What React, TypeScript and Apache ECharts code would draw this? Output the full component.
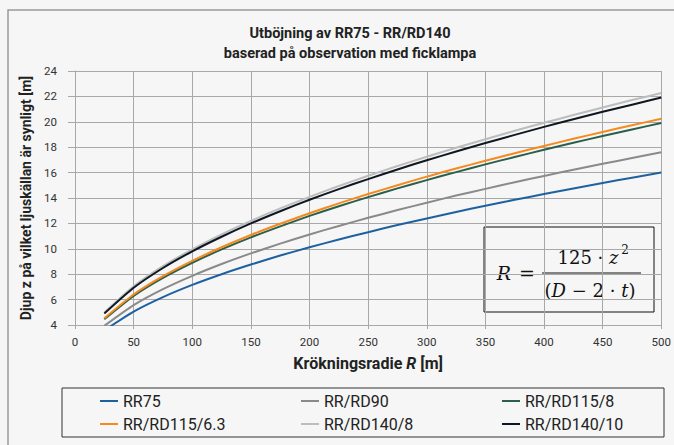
import React, { useEffect, useRef } from "react";
import * as echarts from "echarts";

const radii = [25, 50, 75, 100, 125, 150, 175, 200, 225, 250, 275, 300, 325, 350, 375, 400, 425, 450, 475, 500];

const rr75 = [3.58, 5.06, 6.2, 7.16, 8.0, 8.76, 9.47, 10.12, 10.73, 11.31, 11.87, 12.39, 12.9, 13.39, 13.86, 14.31, 14.75, 15.18, 15.6, 16.0];
const rrd90 = [3.93, 5.56, 6.82, 7.87, 8.8, 9.64, 10.41, 11.13, 11.8, 12.44, 13.05, 13.63, 14.19, 14.72, 15.24, 15.74, 16.22, 16.69, 17.15, 17.6];
const rrd115_8 = [4.45, 6.29, 7.71, 8.9, 9.95, 10.9, 11.77, 12.59, 13.35, 14.07, 14.76, 15.41, 16.04, 16.65, 17.23, 17.8, 18.35, 18.88, 19.4, 19.9];
const rrd115_63 = [4.53, 6.4, 7.84, 9.05, 10.12, 11.09, 11.97, 12.8, 13.58, 14.31, 15.01, 15.68, 16.32, 16.93, 17.53, 18.1, 18.66, 19.2, 19.73, 20.24];
const rrd140_8 = [4.98, 7.04, 8.63, 9.96, 11.14, 12.2, 13.18, 14.09, 14.94, 15.75, 16.52, 17.25, 17.96, 18.63, 19.29, 19.92, 20.53, 21.13, 21.71, 22.27];
const rrd140_10 = [4.9, 6.93, 8.49, 9.8, 10.95, 12.0, 12.96, 13.86, 14.7, 15.49, 16.25, 16.97, 17.66, 18.33, 18.97, 19.6, 20.2, 20.79, 21.35, 21.91];

const seriesNames = ["RR75", "RR/RD90", "RR/RD115/8", "RR/RD115/6.3", "RR/RD140/8", "RR/RD140/10"];
const seriesValues = [rr75, rrd90, rrd115_8, rrd115_63, rrd140_8, rrd140_10];
const seriesColors = ["#1f61a0", "#8a8a8a", "#2c5f4b", "#f58a1f", "#bdbdbd", "#0f1722"];

const titleText = "Utböjning av RR75 - RR/RD140\nbaserad på observation med ficklampa";
const yName = "Djup z på vilket ljuskällan är synligt [m]";
const xName = "Krökningsradie {i|R} [m]";

export default function App() {
  const ref = useRef<HTMLDivElement>(null);
  useEffect(() => {
    if (!ref.current) return;
    const chart = echarts.init(ref.current, null, { renderer: "svg" });
    const bg = "#f5f6f5";
    const gridColor = "#a8a8a8";
    const serif = "'DejaVu Serif', serif";
    chart.setOption({
      animation: false,
      backgroundColor: bg,
      textStyle: { fontFamily: "Roboto" },
      title: {
        text: titleText,
        left: 345,
        top: 18,
        textAlign: "center",
        textStyle: { fontSize: 14.5, fontWeight: "bold", color: "#222", lineHeight: 20, fontFamily: "Roboto" },
      },
      grid: { left: 75, right: 10, top: 71, bottom: 120 },
      xAxis: {
        type: "value",
        min: 0,
        max: 500,
        interval: 50,
        name: xName,
        nameLocation: "middle",
        nameGap: 30,
        nameTextStyle: {
          fontSize: 16,
          fontWeight: "bold",
          color: "#222",
          rich: { i: { fontSize: 16, fontWeight: "bold", fontStyle: "italic", color: "#222" } },
        },
        axisLine: { show: true, lineStyle: { color: gridColor } },
        axisTick: { show: true, length: 4, lineStyle: { color: gridColor } },
        axisLabel: { fontSize: 11.5, color: "#333", margin: 11 },
        splitLine: { show: true, lineStyle: { color: gridColor, width: 1 } },
      },
      yAxis: {
        type: "value",
        min: 4,
        max: 24,
        interval: 2,
        name: yName,
        nameLocation: "middle",
        nameGap: 32,
        nameTextStyle: { fontSize: 14, fontWeight: "bold", color: "#222" },
        axisLine: { show: true, lineStyle: { color: gridColor } },
        axisTick: { show: true, length: 7, lineStyle: { color: gridColor } },
        axisLabel: { fontSize: 11.5, color: "#333", margin: 18 },
        splitLine: { show: true, lineStyle: { color: gridColor, width: 1 } },
      },
      legend: {
        left: 95,
        top: 388,
        width: 600,
        itemWidth: 18,
        itemHeight: 2,
        itemGap: 7,
        icon: "rect",
        textStyle: { fontSize: 16, color: "#222", width: 171, lineHeight: 13 },
        data: seriesNames,
      },
      series: seriesNames.map((name, i) => ({
        name,
        type: "line",
        showSymbol: false,
        symbol: "none",
        smooth: 0.2,
        clip: true,
        lineStyle: { width: 2, color: seriesColors[i] },
        itemStyle: { color: seriesColors[i] },
        data: radii.map((r, j) => [r, seriesValues[i][j]]),
      })),
      graphic: [
        {
          type: "rect",
          shape: { x: 8, y: 10, width: 700, height: 500 },
          style: { fill: "none", stroke: "#9a9a9a", lineWidth: 1.5 },
          silent: true,
          z: 0,
        },
        {
          type: "rect",
          shape: { x: 62, y: 388, width: 602, height: 49 },
          style: { fill: "none", stroke: "#333", lineWidth: 1 },
          silent: true,
        },
        {
          type: "group",
          z: 100,
          children: [
            {
              type: "rect",
              shape: { x: 484, y: 227, width: 170, height: 85 },
              style: { fill: bg, stroke: "#111", lineWidth: 1 },
            },
            {
              type: "text",
              x: 504,
              y: 273,
              style: { text: "R", font: "italic 19px " + serif, fill: "#111", textAlign: "center", textVerticalAlign: "middle" },
            },
            {
              type: "text",
              x: 527,
              y: 273,
              style: { text: "=", font: "19px " + serif, fill: "#111", textAlign: "center", textVerticalAlign: "middle" },
            },
            {
              type: "line",
              shape: { x1: 542, y1: 273, x2: 641, y2: 273 },
              style: { stroke: "#111", lineWidth: 1.2 },
            },
            {
              type: "text",
              x: 588,
              y: 257,
              style: {
                text: "125 · {i|z}",
                font: "18px " + serif,
                fill: "#111",
                textAlign: "center",
                textVerticalAlign: "middle",
                rich: { i: { font: "italic 18px " + serif, fill: "#111" } },
              },
            },
            {
              type: "text",
              x: 625,
              y: 250,
              style: { text: "2", font: "12px " + serif, fill: "#111", textAlign: "center", textVerticalAlign: "middle" },
            },
            {
              type: "text",
              x: 590,
              y: 290,
              style: {
                text: "({i|D} − 2 · {i|t})",
                font: "18px " + serif,
                fill: "#111",
                textAlign: "center",
                textVerticalAlign: "middle",
                rich: { i: { font: "italic 18px " + serif, fill: "#111" } },
              },
            },
          ],
        },
      ],
    });
    return () => chart.dispose();
  }, []);
  return <div ref={ref} style={{ position: "fixed", left: 0, top: 0, width: 674, height: 445 }} />;
}
